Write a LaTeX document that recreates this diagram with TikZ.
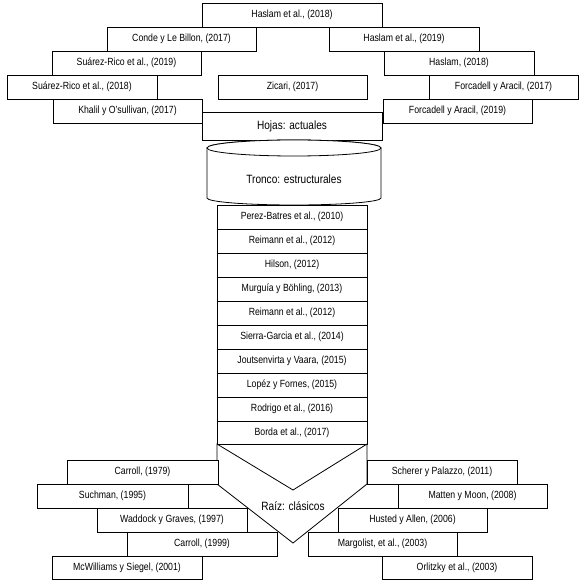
\documentclass[tikz,border=0pt]{standalone}
\usepackage{fontspec}
\setmainfont{Liberation Sans}[FakeStretch=0.84]
\begin{document}
\begin{tikzpicture}[x=1pt,y=-1pt,
  box/.style={draw=black,fill=white,line width=0.8pt,inner sep=0pt,outer sep=0pt,
    anchor=north west,font=\fontsize{10.4}{12}\selectfont},
  bigtxt/.style={inner sep=0pt,font=\fontsize{12}{14}\selectfont},
  shp/.style={draw=black,fill=white,line width=0.8pt}]
\useasboundingbox (0,0) rectangle (585,585);
\newcommand{\bx}[6]{\node[box,minimum width={(#4-#2)*1pt},minimum height={(#5-#3)*1pt}] (#1) at (#2,#3) {#6};}
% top (leaves)
\bx{ha18}{202}{3}{382}{27}{Haslam et al., (2018)}
\bx{conde}{107}{27}{256}{51}{Conde y Le Billon, (2017)}
\bx{ha19}{329}{27}{479}{51}{Haslam et al., (2019)}
\bx{sr19}{52}{51}{201}{75}{Suárez-Rico et al., (2019)}
\bx{has18}{384}{51}{534}{75}{Haslam, (2018)}
\bx{sr18}{7}{75}{157}{99}{Suárez-Rico et al., (2018)}
\bx{zic}{218}{75}{367}{99}{Zicari, (2017)}
\bx{fa17}{429}{75}{578}{99}{Forcadell y Aracil, (2017)}
\bx{kh}{53}{99}{202}{123}{Khalil y O'sullivan, (2017)}
\bx{fa19}{383}{99}{532}{123}{Forcadell y Aracil, (2019)}
\node[box,minimum width=180pt,minimum height=28pt,font=\fontsize{12}{14}\selectfont] (hojas) at (202,112) {Hojas: actuales};
% trunk cylinder
\draw[shp] (207,148) -- (207,198) arc[start angle=180,end angle=360,x radius=87,y radius=-7] -- (381,148)
  arc[start angle=0,end angle=180,x radius=87,y radius=-8] -- cycle;
\draw[shp] (294,148) ellipse[x radius=87,y radius=8];
\node[bigtxt] (tronco) at (294,179) {Tronco: estructurales};
% trunk boxes
\bx{t1}{217}{205}{367}{229}{Perez-Batres et al., (2010)}
\bx{t2}{217}{229}{367}{253}{Reimann et al., (2012)}
\bx{t3}{217}{253}{367}{277}{Hilson, (2012)}
\bx{t4}{217}{277}{367}{301}{Murguía y Böhling, (2013)}
\bx{t5}{217}{301}{367}{325}{Reimann et al., (2012)}
\bx{t6}{217}{325}{367}{349}{Sierra-Garcia et al., (2014)}
\bx{t7}{217}{349}{367}{373}{Joutsenvirta y Vaara, (2015)}
\bx{t8}{217}{373}{367}{397}{Lopéz y Fornes, (2015)}
\bx{t9}{217}{397}{367}{421}{Rodrigo et al., (2016)}
\bx{t10}{217}{421}{367}{444}{Borda et al., (2017)}
% root chevron
\draw[shp,line join=miter] (217,444) -- (293,490) -- (367,444) -- (367,484) -- (293,543) -- (217,484) -- cycle;
\node[bigtxt] (raiz) at (293,506) {Raíz: clásicos};
% roots
\bx{c79}{67}{460}{218}{484}{Carroll, (1979)}
\bx{such}{37}{484}{188}{508}{Suchman, (1995)}
\bx{wad}{97}{508}{247}{532}{Waddock y Graves, (1997)}
\bx{c99}{127}{532}{277}{556}{Carroll, (1999)}
\bx{mcw}{52}{556}{202}{579}{McWilliams y Siegel, (2001)}
\bx{sch}{367}{460}{517}{484}{Scherer y Palazzo, (2011)}
\bx{mat}{398}{484}{547}{508}{Matten y Moon, (2008)}
\bx{hus}{338}{508}{487}{532}{Husted y Allen, (2006)}
\bx{mar}{308}{532}{457}{556}{Margolist, et al., (2003)}
\bx{orl}{382}{556}{532}{579}{Orlitzky et al., (2003)}
\end{tikzpicture}
\end{document}
